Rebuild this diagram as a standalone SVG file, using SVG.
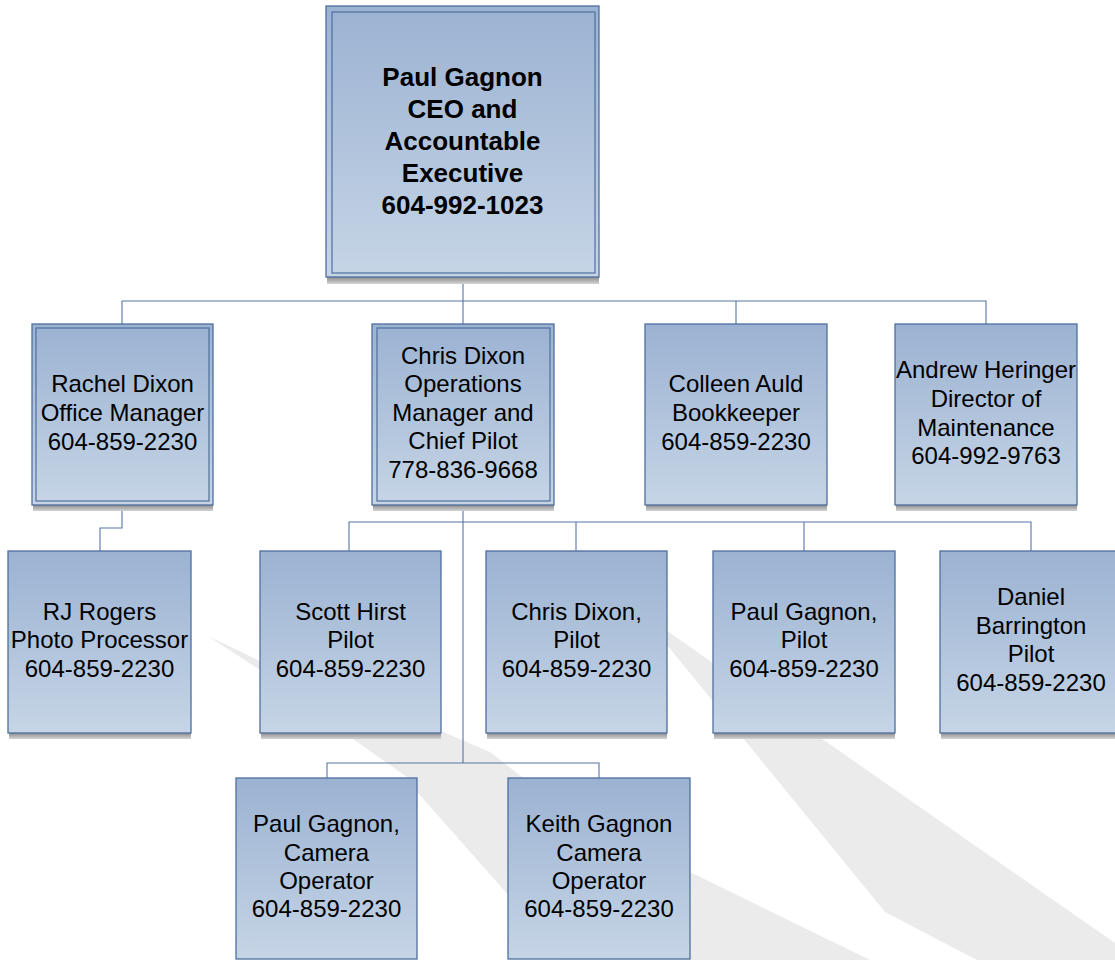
<svg xmlns="http://www.w3.org/2000/svg" width="1115" height="960" viewBox="0 0 1115 960">
<defs>
<linearGradient id="fillG" x1="0" y1="0" x2="0" y2="1">
<stop offset="0" stop-color="#9bb2d2"/>
<stop offset="1" stop-color="#c6d5e6"/>
</linearGradient>
<linearGradient id="shadG" x1="0" y1="0" x2="0" y2="1">
<stop offset="0" stop-color="#8c8c8c"/>
<stop offset="1" stop-color="#d4d4d4"/>
</linearGradient>
<style>
.box{fill:url(#fillG);stroke:#4f6f9f;stroke-width:1.3}
.inner{fill:none;stroke:#4f6f9f;stroke-width:1.2}
.shad{fill:url(#shadG)}
.conn{fill:none;stroke:#5676a6;stroke-width:1.1}
.wm{fill:#ebebeb}
text{font-family:"Liberation Sans",Arial,sans-serif;fill:#000;text-anchor:middle}
.t{font-size:24px}
.tb{font-size:26px;font-weight:bold}
</style>
</defs>
<rect width="1115" height="960" fill="#ffffff"/>
<g id="watermark">
<path class="wm" d="M208,636 L260,661 L330,689 L420,722 L490,752 L545,795 L610,845 L692,873 L870,960 L560,960 L510,897 L418,793 L407,777 L350,737 L300,703 L260,670 Z"/>
<path class="wm" d="M640,612 L1115,943 L1115,960 L977,960 L885,912 Z"/>
</g>
<g id="connectors">
<path class="conn" d="M463,284 V301 M122,324 V301 H986 V324 M463,301 V324 M736,301 V324"/>
<path class="conn" d="M122,511 V528 H100 V551"/>
<path class="conn" d="M463,511 V763 M349,551 V522 H1031 V551 M576,522 V551 M804,522 V551"/>
<path class="conn" d="M327,778 V763 H599 V778"/>
</g>
<g id="n-ceo">
<rect class="shad" x="327" y="277" width="272" height="7"/>
<rect class="box" x="326" y="6" width="273" height="271"/>
<rect class="inner" x="332" y="12" width="263" height="261"/>
<text class="tb" x="462.5" y="86">Paul Gagnon</text>
<text class="tb" x="462.5" y="118">CEO and</text>
<text class="tb" x="462.5" y="150">Accountable</text>
<text class="tb" x="462.5" y="182">Executive</text>
<text class="tb" x="462.5" y="214">604-992-1023</text>
</g>
<g id="n-rachel">
<rect class="shad" x="33" y="505" width="180" height="6"/>
<rect class="box" x="32" y="324" width="181" height="181"/>
<rect class="inner" x="36" y="328" width="173" height="173"/>
<text class="t" x="122.5" y="392">Rachel Dixon</text>
<text class="t" x="122.5" y="421">Office Manager</text>
<text class="t" x="122.5" y="450">604-859-2230</text>
</g>
<g id="n-chris-ops">
<rect class="shad" x="373" y="505" width="181" height="6"/>
<rect class="box" x="372" y="324" width="182" height="181"/>
<rect class="inner" x="377" y="328" width="173" height="173"/>
<text class="t" x="463" y="363.5">Chris Dixon</text>
<text class="t" x="463" y="392">Operations</text>
<text class="t" x="463" y="420.5">Manager and</text>
<text class="t" x="463" y="449">Chief Pilot</text>
<text class="t" x="463" y="477.5">778-836-9668</text>
</g>
<g id="n-colleen">
<rect class="shad" x="646" y="505" width="181" height="6"/>
<rect class="box" x="645" y="324" width="182" height="181"/>
<text class="t" x="736" y="392">Colleen Auld</text>
<text class="t" x="736" y="421">Bookkeeper</text>
<text class="t" x="736" y="450">604-859-2230</text>
</g>
<g id="n-andrew">
<rect class="shad" x="896" y="505" width="181" height="6"/>
<rect class="box" x="895" y="324" width="182" height="181"/>
<text class="t" x="986" y="378">Andrew Heringer</text>
<text class="t" x="986" y="407">Director of</text>
<text class="t" x="986" y="435.5">Maintenance</text>
<text class="t" x="986" y="464">604-992-9763</text>
</g>
<g id="n-rj">
<rect class="shad" x="9" y="733" width="182" height="6"/>
<rect class="box" x="8" y="551" width="183" height="182"/>
<text class="t" x="99.5" y="619.5">RJ Rogers</text>
<text class="t" x="99.5" y="648">Photo Processor</text>
<text class="t" x="99.5" y="676.7">604-859-2230</text>
</g>
<g id="n-scott">
<rect class="shad" x="261" y="733" width="180" height="6"/>
<rect class="box" x="260" y="551" width="181" height="182"/>
<text class="t" x="350.5" y="619.5">Scott Hirst</text>
<text class="t" x="350.5" y="648">Pilot</text>
<text class="t" x="350.5" y="676.7">604-859-2230</text>
</g>
<g id="n-chris-pilot">
<rect class="shad" x="487" y="733" width="180" height="6"/>
<rect class="box" x="486" y="551" width="181" height="182"/>
<text class="t" x="576.5" y="619.5">Chris Dixon,</text>
<text class="t" x="576.5" y="648">Pilot</text>
<text class="t" x="576.5" y="676.7">604-859-2230</text>
</g>
<g id="n-paul-pilot">
<rect class="shad" x="714" y="733" width="181" height="6"/>
<rect class="box" x="713" y="551" width="182" height="182"/>
<text class="t" x="804" y="619.5">Paul Gagnon,</text>
<text class="t" x="804" y="648">Pilot</text>
<text class="t" x="804" y="676.7">604-859-2230</text>
</g>
<g id="n-daniel">
<rect class="shad" x="941" y="733" width="181" height="6"/>
<rect class="box" x="940" y="551" width="182" height="182"/>
<text class="t" x="1031" y="605">Daniel</text>
<text class="t" x="1031" y="633.5">Barrington</text>
<text class="t" x="1031" y="662">Pilot</text>
<text class="t" x="1031" y="690.5">604-859-2230</text>
</g>
<g id="n-paul-camera">
<rect class="box" x="236" y="778" width="181" height="181"/>
<text class="t" x="326.5" y="832">Paul Gagnon,</text>
<text class="t" x="326.5" y="860.5">Camera</text>
<text class="t" x="326.5" y="889">Operator</text>
<text class="t" x="326.5" y="917">604-859-2230</text>
</g>
<g id="n-keith">
<rect class="box" x="508" y="778" width="182" height="181"/>
<text class="t" x="599" y="832">Keith Gagnon</text>
<text class="t" x="599" y="860.5">Camera</text>
<text class="t" x="599" y="889">Operator</text>
<text class="t" x="599" y="917">604-859-2230</text>
</g>
</svg>
